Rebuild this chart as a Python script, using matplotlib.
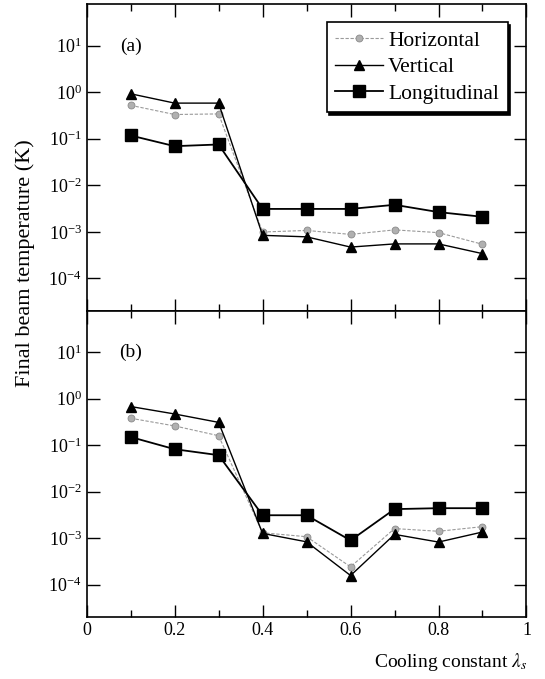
import numpy as np
from matplotlib import pyplot as plt
from matplotlib.ticker import FixedLocator, NullLocator

plt.rcParams['font.family'] = ['Liberation Serif', 'DejaVu Serif']
plt.rcParams['mathtext.fontset'] = 'stix'
plt.rcParams['axes.unicode_minus'] = False

lam = [0.1, 0.2, 0.3, 0.4, 0.5, 0.6, 0.7, 0.8, 0.9]

# panel (a)
horiz_a = [0.52, 0.33, 0.34, 9.9e-4, 1.07e-3, 8.8e-4, 1.1e-3, 9.6e-4, 5.4e-4]
vert_a = [0.92, 0.58, 0.58, 8.4e-4, 7.8e-4, 4.7e-4, 5.5e-4, 5.5e-4, 3.4e-4]
long_a = [0.117, 0.069, 0.075, 3.1e-3, 3.1e-3, 3.1e-3, 3.8e-3, 2.65e-3, 2.1e-3]

# panel (b)
horiz_b = [0.38, 0.26, 0.16, 1.3e-3, 1.07e-3, 2.4e-4, 1.6e-3, 1.4e-3, 1.76e-3]
vert_b = [0.68, 0.47, 0.31, 1.26e-3, 8.3e-4, 1.56e-4, 1.2e-3, 8.2e-4, 1.35e-3]
long_b = [0.15, 0.082, 0.061, 3.1e-3, 3.1e-3, 8.9e-4, 4.2e-3, 4.4e-3, 4.4e-3]

fig = plt.figure(figsize=(5.45, 6.79), dpi=100)
ax_a = fig.add_axes([0.159, 0.542, 0.807, 0.452])
ax_b = fig.add_axes([0.159, 0.0913, 0.807, 0.4507])

panels = [(ax_a, horiz_a, vert_a, long_a, '(a)'),
          (ax_b, horiz_b, vert_b, long_b, '(b)')]

for ax, h, v, lo, tag in panels:
    ax.plot(lam, h, ls='--', dashes=(3, 1.5), lw=0.8, c='#9a9a9a', marker='o',
            ms=5, mfc='#b0b0b0', mec='#8a8a8a', mew=0.6, label='Horizontal')
    ax.plot(lam, v, ls='-', lw=1.0, c='black', marker='^', ms=7.5, label='Vertical')
    ax.plot(lam, lo, ls='-', lw=1.3, c='black', marker='s', ms=9, label='Longitudinal')
    ax.set_yscale('log')
    ax.set_ylim(10 ** -4.7, 10 ** 1.89)
    ax.set_xlim(0, 1)
    ax.yaxis.set_major_locator(FixedLocator([1e-4, 1e-3, 1e-2, 1e-1, 1e0, 1e1]))
    ax.yaxis.set_minor_locator(NullLocator())
    ax.set_xticks([0, 0.2, 0.4, 0.6, 0.8, 1.0])
    ax.set_xticks(lam, minor=True)
    ax.tick_params(which='both', direction='in', top=True, right=True, labelsize=13)
    ax.tick_params(which='major', length=9, width=1.0)
    ax.tick_params(which='minor', length=5, width=1.0)
    for s in ax.spines.values():
        s.set_linewidth(1.2)
    ax.text(0.1, 10 ** 0.99, tag, fontsize=14, ha='center', va='center')

ax_a.set_xticklabels([])
ax_b.set_xticklabels(['0', '0.2', '0.4', '0.6', '0.8', '1'])

leg = ax_a.legend(loc='upper right', bbox_to_anchor=(0.957, 0.942), fontsize=15.5,
                  frameon=True, fancybox=False, shadow={'color': 'black', 'alpha': 1},
                  handlelength=2.2, handletextpad=0.25, labelspacing=0.3,
                  borderpad=0.4, borderaxespad=0)
leg.get_frame().set_edgecolor('black')
leg.get_frame().set_linewidth(1.2)

fig.text(0.047, 0.613, 'Final beam temperature (K)', rotation=90, fontsize=16,
         ha='center', va='center')
fig.text(0.968, 0.025, r'Cooling constant $\lambda_s$', fontsize=14, ha='right', va='center')

plt.savefig('out.png', dpi=100)
